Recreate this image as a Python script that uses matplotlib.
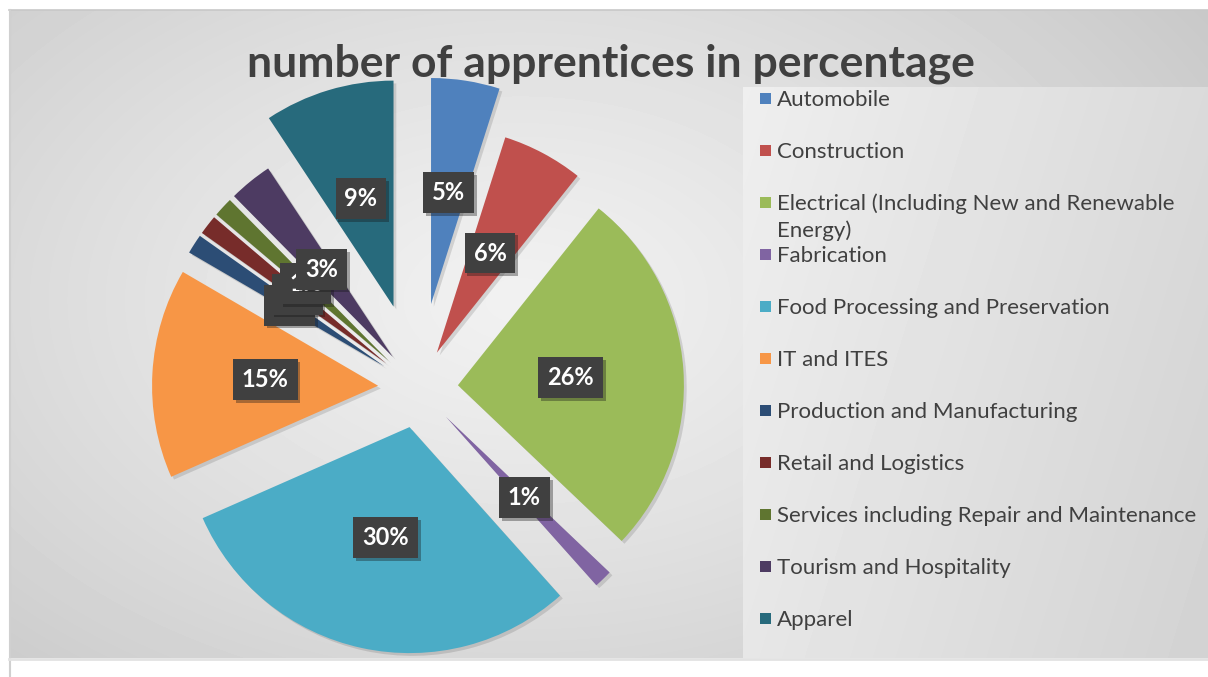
import numpy as np
import matplotlib
matplotlib.use('Agg')
import matplotlib.pyplot as plt
import matplotlib.patheffects as pe
from matplotlib.patches import Rectangle

plt.rcParams['font.family'] = ['Lato', 'DejaVu Sans']

# данные
categories = ['Automobile', 'Construction',
              'Electrical (Including New and Renewable\nEnergy)',
              'Fabrication', 'Food Processing and Preservation', 'IT and ITES',
              'Production and Manufacturing', 'Retail and Logistics',
              'Services including Repair and Maintenance',
              'Tourism and Hospitality', 'Apparel']
values = [4.9, 5.8, 26.4, 1.3, 30.0, 15.0, 1.4, 1.4, 1.4, 3.1, 9.3]
colors = ['#4F81BD', '#C0504D', '#9BBB59', '#8064A2', '#4BACC6', '#F79646',
          '#2C4D75', '#772C2A', '#5F7530', '#4D3B62', '#276A7C']
explode = [0.376, 0.177, 0.177, 0.177, 0.177, 0.177, 0.177, 0.177, 0.177, 0.177, 0.376]

W, H = 1208, 677
fig = plt.figure(figsize=(W / 100, H / 100), dpi=100)
fig.patch.set_facecolor('white')

# фон в пиксельных координатах
bg = fig.add_axes([0, 0, 1, 1], zorder=0)
bg.set_xlim(0, W)
bg.set_ylim(H, 0)
bg.axis('off')

xx, yy = np.meshgrid(np.arange(9, W), np.arange(10, 658))
r = np.sqrt(((xx - 520) / 650.0) ** 2 + ((yy - 300) / 420.0) ** 2)
grad = np.clip(0.945 - 0.12 * r ** 1.2, 0, 1)
bg.imshow(grad, cmap='gray', vmin=0, vmax=1, extent=(9, W, 658, 10), aspect='auto', zorder=0)

lx, ly = np.meshgrid(np.arange(743, W), np.arange(87, 658))
lgrad = 0.935 - 0.08 * (lx - 743) / 465.0 - 0.03 * (ly - 87) / 571.0
bg.imshow(lgrad, cmap='gray', vmin=0, vmax=1, extent=(743, W, 658, 87), aspect='auto', zorder=1)

bg.plot([9, W], [10, 10], color='#c8c8c8', lw=1.2, zorder=2)
bg.plot([9.5, 9.5], [10, H], color='#d0d0d0', lw=1.5, zorder=2)
bg.plot([9, W], [659, 659], color='#e2e2e2', lw=2, zorder=2)

# круговая диаграмма
ax = fig.add_axes([0, 0, 1, 1], zorder=1)
ax.patch.set_alpha(0)
wedges, texts, autotexts = ax.pie(values, colors=colors, explode=explode,
                                  startangle=90, counterclock=False,
                                  autopct='%.0f%%', pctdistance=0.5, radius=1,
                                  wedgeprops=dict(linewidth=0),
                                  textprops=dict(color='white', fontsize=17, fontweight='bold'))
for w in wedges:
    w.set_path_effects([pe.withSimplePatchShadow(offset=(2, -2), shadow_rgbFace='black', alpha=0.12)])
for t in autotexts:
    t.set_bbox(dict(boxstyle='square,pad=0.38', fc='#404040', ec='none'))
    t.get_bbox_patch().set_path_effects([pe.withSimplePatchShadow(offset=(2, -2), alpha=0.35)])

R = 226.0
cx, cy = 418.0, 388.0
ax.set_xlim(-cx / R, (W - cx) / R)
ax.set_ylim(-(H - cy) / R, cy / R)
ax.set_aspect('auto')
ax.axis('off')

# заголовок и легенда
fig.text(611, 77, 'number of apprentices in percentage', transform=bg.transData,
         ha='center', va='baseline', fontsize=32, fontweight='bold', color='#404040', zorder=5)

for i, (name, c) in enumerate(zip(categories, colors)):
    y = 99 + 52 * i
    bg.add_patch(Rectangle((760, y - 6), 11, 11, facecolor=c, edgecolor='none', zorder=3))
    # baseline многострочного текста — по последней строке
    bg.text(777, y + 7 + 27 * name.count('\n'), name, ha='left', va='baseline',
            fontsize=16, color='#404040', linespacing=1.4, zorder=3)

fig.savefig('out.png', dpi=100)
